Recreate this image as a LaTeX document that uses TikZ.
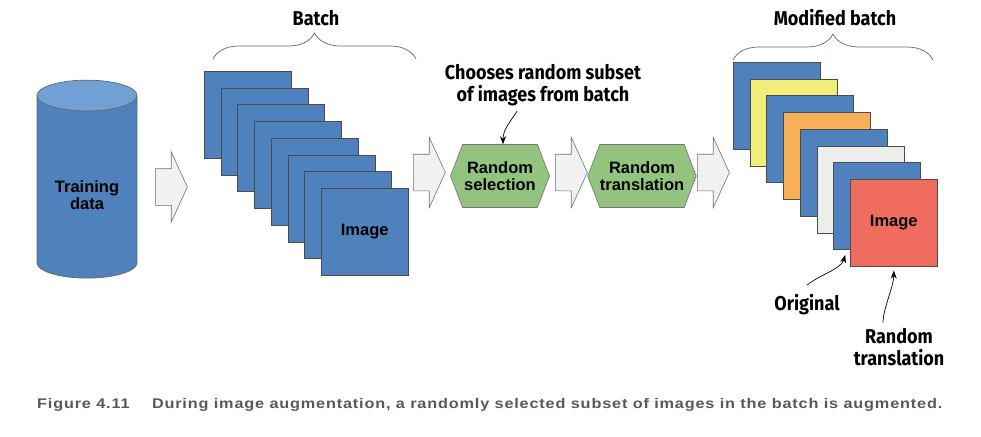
\documentclass[tikz,border=0pt]{standalone}
\usepackage{fontspec}
\setmainfont{Liberation Sans}
\newfontfamily\lblfont[FakeStretch=0.9]{Fira Sans}
\newfontfamily\capfont[FakeStretch=1.16, LetterSpace=6]{Liberation Sans}
\usepackage{tikz}
\definecolor{Imgb}{RGB}{79,129,189}
\definecolor{Imgb1}{RGB}{113,160,212}
\definecolor{Hexg}{RGB}{146,196,125}
\definecolor{Arrg}{RGB}{240,241,240}
\definecolor{Ylw}{RGB}{240,237,120}
\definecolor{Orng}{RGB}{250,176,88}
\definecolor{Lgry}{RGB}{236,238,236}
\definecolor{Redd}{RGB}{240,108,95}
\definecolor{Capg}{RGB}{88,88,88}
\usetikzlibrary{shapes.geometric, shapes.symbols, shapes.arrows, decorations.pathreplacing, arrows.meta}

\begin{document}
\begin{tikzpicture}[x=1pt, y=-1pt,
    boxtext/.style={font=\fontsize{16.5}{17}\selectfont\bfseries, align=center},
    lbl/.style={font=\lblfont\fontsize{20}{22}\selectfont\bfseries, align=center},
    img/.style={draw=black!70, line width=0.7pt, fill=#1, minimum size=87pt,
                inner sep=0pt, anchor=north west, boxtext},
    flowarrow/.style={single arrow, draw=black!55, fill=Arrg, line width=0.6pt,
                minimum height=32pt, inner xsep=0pt, inner ysep=18pt,
                single arrow head extend=17pt, single arrow tip angle=131, anchor=tail},
    stephex/.style={signal, signal to=west and east, signal pointer angle=138,
                draw=black!55, fill=Hexg, line width=0.6pt, minimum width=99pt,
                minimum height=63pt, inner sep=0pt, boxtext},
    bracket/.style={draw=black!60, line width=0.7pt, decorate,
                decoration={brace, amplitude=26pt}},
    notearrow/.style={draw=black, line width=0.7pt, -{Stealth[length=8pt, width=6pt]}}]
    \useasboundingbox (0,0) rectangle (981,436);

    % training data
    \node [cylinder, shape border rotate=90, aspect=0.48, draw=black!60, line width=0.7pt,
           cylinder uses custom fill, cylinder body fill=Imgb, cylinder end fill=Imgb1,
           minimum width=100pt, minimum height=198pt, inner sep=0pt,
           font=\fontsize{16.5}{17}\selectfont\bfseries]
           (data) at (87,187)
           {\raisebox{-11pt}[\height][\depth]{\begin{tabular}{@{}c@{}}Training\\data\end{tabular}}};

    \node [flowarrow] (a1) at (155,187) {};

    % batch
    \foreach \i in {0,...,6}
        \node [img=Imgb] (b\i) at ({204+16.7*\i},{71+16.7*\i}) {};
    \node [img=Imgb] (b7) at ({204+16.7*7},{71+16.7*7}) {Image};
    \draw [bracket] (213,59) -- (416,59);
    \node [lbl] (batch) at (316,18) {Batch};

    \node [flowarrow] (a2) at (413,172.5) {};
    \node [stephex] (sel) at (500,176) {Random\\selection};
    \node [flowarrow] (a3) at (555,172.5) {};
    \node [stephex] (trans) at (642,176) {Random\\translation};
    \node [flowarrow] (a4) at (697,172.5) {};

    \node [lbl] (note) at (543,85) {Chooses random subset\\of images from batch};
    \draw [notearrow] ([xshift=-26pt,yshift=-2pt]note.south) .. controls +(-8,12) and +(0,-14) .. ([xshift=3pt]sel.north);

    % modified batch
    \foreach \i/\c in {0/Imgb,1/Ylw,2/Imgb,3/Orng,4/Imgb,5/Lgry,6/Imgb}
        \node [img=\c] (m\i) at ({733+16.7*\i},{62+16.7*\i}) {};
    \node [img=Redd] (m7) at ({733+16.7*7},{62+16.7*7}) {Image};
    \draw [bracket] (733,60) -- (933,60);
    \node [lbl] (mod) at (835,18) {Modified batch};

    \node [lbl] (orig) at (807,305) {Original};
    \draw [notearrow] ([yshift=6pt]orig.north) .. controls +(12,-10) and +(-4,14) .. ([xshift=12pt,yshift=-5pt]m6.south west);
    \node [lbl] (rt) at (899,347) {Random\\translation};
    \draw [notearrow] ([xshift=-16pt,yshift=2pt]rt.north) .. controls +(0,-14) and +(0,16) .. ([yshift=-4pt]m7.south);

    % caption
    \node [anchor=west, text=Capg, inner sep=0pt, font=\capfont\fontsize{14}{16}\selectfont\bfseries]
        (cap) at (37,405) {Figure 4.11\hspace{1.6em}During image augmentation, a randomly selected subset of images in the batch is augmented.};
\end{tikzpicture}
\end{document}
